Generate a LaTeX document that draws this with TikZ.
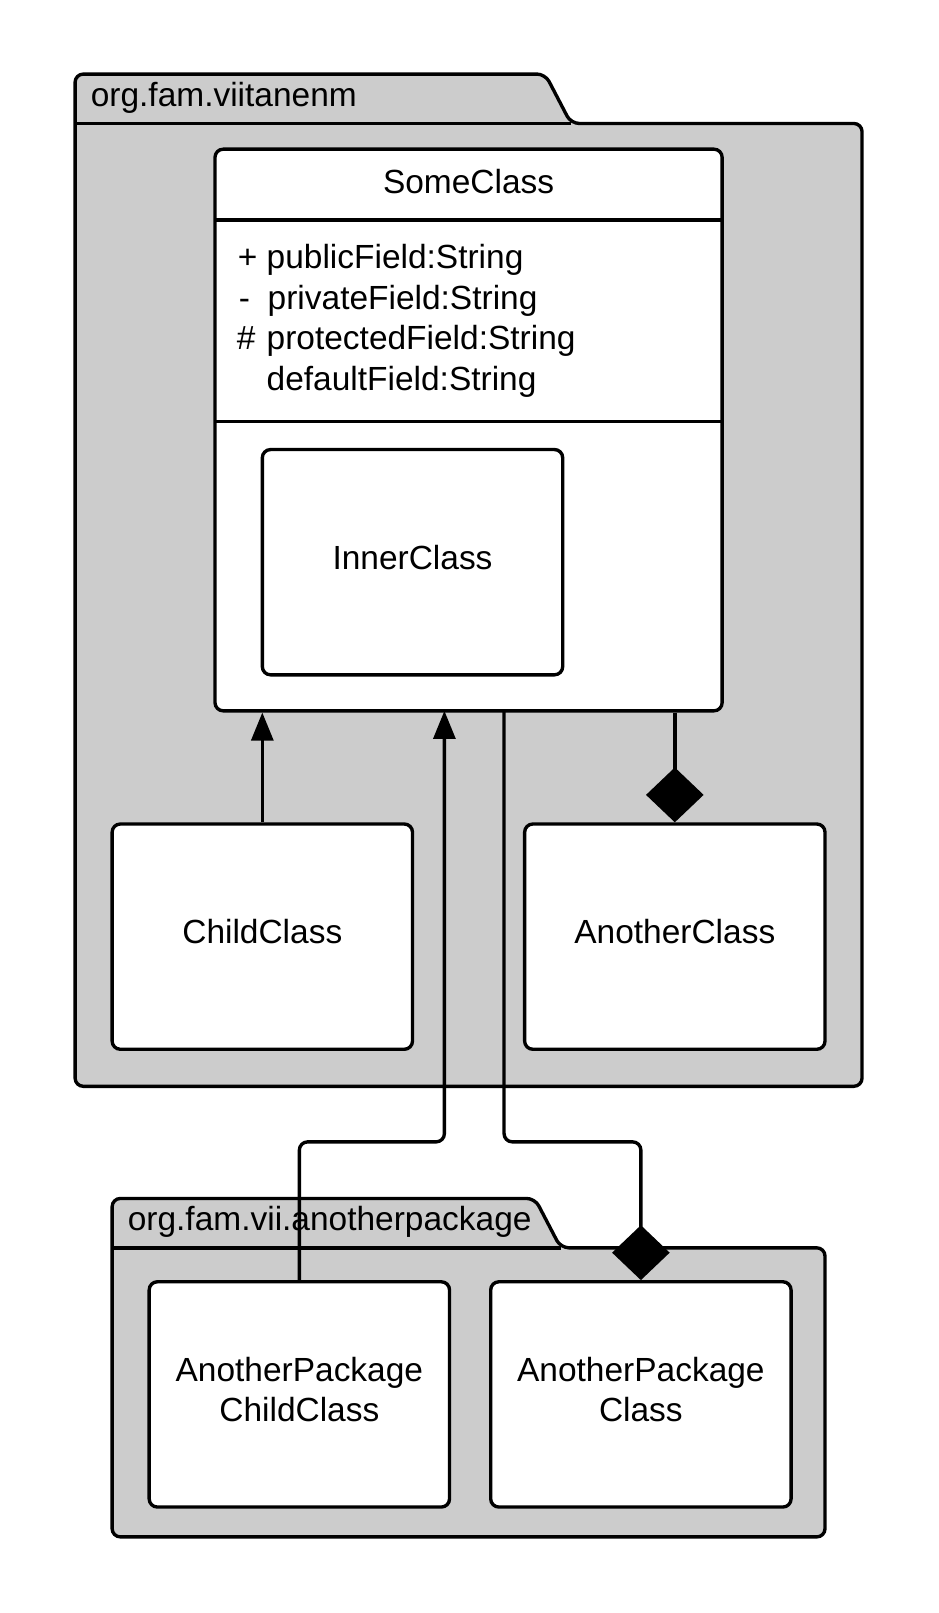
\documentclass[tikz,border=0pt]{standalone}
\usepackage{fontspec}
\setmainfont{Liberation Sans}
\usetikzlibrary{arrows.meta,fit}
\definecolor{pkggray}{HTML}{CCCCCC}
\begin{document}
\begin{tikzpicture}[x=0.75pt,y=-0.75pt,
  every node/.style={font=\fontsize{24.4}{29.3}\selectfont},
  lw/.style={line width=2.45pt},
  classbox/.style={draw, lw, fill=white, rounded corners=6pt, inner sep=0pt, align=center},
  pkgshape/.style={draw, lw, fill=pkggray, rounded corners=6pt},
  conn/.style={draw, lw, rounded corners=6pt},
  inherit/.style={conn, -{Triangle[length=20.5pt,width=16pt]}},
  compose/.style={conn, -{Diamond[length=40pt,width=42pt]}},
  txt/.style={inner sep=0pt},
  ctext/.style={txt, align=center, yshift=3.75pt}
]
\useasboundingbox (0,0) rectangle (912,1568);
\fill[white] (0,0) rectangle (912,1568);

% package 1
\draw[pkgshape] (73,1056) -- (73,72) -- (530,72) -- (555,120) -- (838,120) -- (838,1056) -- cycle;
\draw[lw] (73,120) -- (555,120);
\node[txt, anchor=west] (pkgAlabel) at (88,95) {org.fam.viitanenm};

% package 2
\draw[pkgshape] (109,1494) -- (109,1165) -- (520,1165) -- (545,1213) -- (802,1213) -- (802,1494) -- cycle;
\draw[lw] (109,1213) -- (545,1213);
\node[txt, anchor=west] (pkgBlabel) at (124,1188) {org.fam.vii.anotherpackage};

% SomeClass
\node[classbox, fit={(209,145)(702,691)}] (some) {};
\node[txt] (someTitle) at (455.5,176) {SomeClass};
\draw[lw] (209,214) -- (702,214);
\draw[lw] (209,410) -- (702,410);
\node[txt, anchor=base west] (s1) at (231,261) {+};
\node[txt, anchor=base west] (f1) at (259,261) {publicField:String};
\node[txt, anchor=base west] (s2) at (232,300.5) {-};
\node[txt, anchor=base west] (f2) at (260,300.5) {privateField:String};
\node[txt, anchor=base west] (s3) at (230,340) {\#};
\node[txt, anchor=base west] (f3) at (259,340) {protectedField:String};
\node[txt, anchor=base west] (f4) at (259,379.5) {defaultField:String};

\node[classbox, fit={(255,437)(547,656)}] (inner) {};
\node[ctext] (innerText) at (inner.center) {InnerClass};

% other classes
\node[classbox, fit={(109,801)(401,1020)}] (child) {};
\node[ctext] (childText) at (child.center) {ChildClass};
\node[classbox, fit={(510,801)(802,1020)}] (another) {};
\node[ctext] (anotherText) at (another.center) {AnotherClass};
\node[classbox, fit={(145,1246)(437,1465)}] (apcc) {};
\node[ctext] (apccText) at (apcc.center) {AnotherPackage\\ChildClass};
\node[classbox, fit={(477,1246)(769,1465)}] (apc) {};
\node[ctext] (apcText) at (apc.center) {AnotherPackage\\Class};

% connector points
\coordinate (inA) at (432,691);
\coordinate (outA) at (490,691);
\coordinate (bendA) at (432,1110);
\coordinate (bendB) at (623,1110);

% connectors
\draw[inherit] (child.north) -- (child.north |- some.south);
\draw[inherit] (apcc.north) |- (bendA) -- (inA);
\draw[compose] (outA) |- (bendB) -- (apc.north);
\draw[compose] (another.north |- some.south) -- (another.north);
\end{tikzpicture}
\end{document}
